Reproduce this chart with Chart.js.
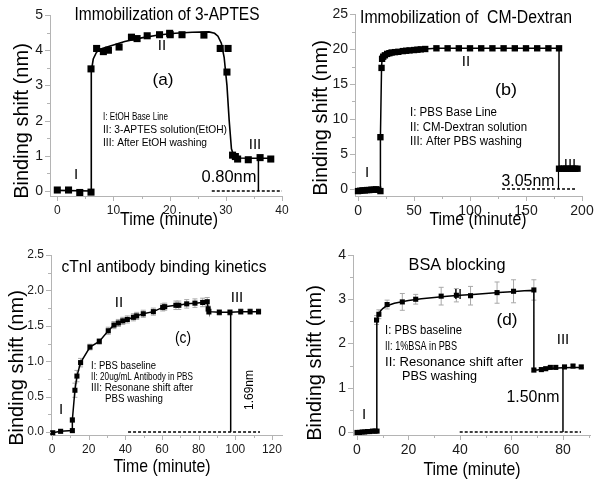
<!DOCTYPE html>
<html>
<head>
<meta charset="utf-8">
<script src="https://cdn.jsdelivr.net/npm/chart.js@4.4.1/dist/chart.umd.min.js"></script>
<style>
  html, body { margin: 0; padding: 0; background: #fff; }
  #wrap { position: relative; width: 603px; height: 485px; overflow: hidden; }
  canvas { position: absolute; }
</style>
</head>
<body>
<div id="wrap">
  <canvas id="chartA" width="300" height="240" style="left:0;top:0;width:300px;height:240px"></canvas>
  <canvas id="chartB" width="303" height="240" style="left:300px;top:0;width:303px;height:240px"></canvas>
  <canvas id="chartC" width="300" height="245" style="left:0;top:240px;width:300px;height:245px"></canvas>
  <canvas id="chartD" width="303" height="245" style="left:300px;top:240px;width:303px;height:245px"></canvas>
</div>
<script>
// (a) 3-APTES
const aTime  = [0, 2, 4, 6, 6, 7, 8.2, 9.1, 11, 13.2, 14.2, 16, 18.2, 20, 20.1, 22.2, 26.1, 29, 30.2, 30.4, 31.2, 31.7, 32.1, 34, 36.1, 38];
const aShift = [0.03, 0.03, -0.04, -0.03, 3.47, 4.05, 3.96, 4.0, 4.09, 4.37, 4.33, 4.41, 4.44, 4.48, 4.44, 4.44, 4.43, 4.05, 3.38, 4.05, 1.02, 0.98, 0.91, 0.89, 0.95, 0.91];
const aFitTime  = [0, 6, 6.05, 6.4, 7, 8, 10, 12, 15, 18, 21, 24, 27, 28, 28.6, 29.2, 29.7, 30.2, 30.6, 31, 31.4, 32, 35, 38];
const aFitShift = [0.02, 0.0, 3.4, 3.75, 3.95, 4.05, 4.15, 4.25, 4.35, 4.43, 4.48, 4.51, 4.52, 4.48, 4.4, 4.2, 3.8, 3.0, 2.0, 1.2, 1.0, 0.94, 0.93, 0.93];
const aBaseTime = [27.5, 40], aBaseShift = [0, 0];
const aMarkTime = [35.8, 35.8], aMarkShift = [0, 0.9];

// (b) CM-Dextran
const bTime  = [0, 2, 4, 6, 8, 10, 12, 14, 16, 18, 20, 20, 21, 21.5, 22.5, 24, 26, 28, 30, 33, 36, 40, 43, 46, 50, 53, 56, 60,
                70, 80, 90, 100, 110, 120, 130, 140, 150, 160, 170, 179.5, 179.5, 182, 184, 186, 188, 190, 192, 194, 196];
const bShift = [-0.3, -0.25, -0.2, -0.2, -0.15, -0.15, -0.1, -0.1, -0.05, -0.1, -0.3, 7.4, 17.3, 18.6, 18.9, 19.1, 19.3, 19.4, 19.5, 19.55, 19.6, 19.7, 19.75, 19.8, 19.85, 19.9, 19.95, 20.0,
                20.1, 20.1, 20.1, 20.1, 20.1, 20.1, 20.1, 20.1, 20.1, 20.1, 20.1, 20.1, 2.9, 2.9, 2.9, 2.9, 2.9, 2.9, 2.9, 2.9, 2.9];
const bBaseTime = [128.6, 195.5], bBaseShift = [0, 0];
const bMarkTime = [179, 179], bMarkShift = [0, 2.9];

// (c) cTnI antibody
const cTime  = [0.4, 4.7, 11.1, 11.1, 12.5, 13.6, 15.6, 20.7, 25.8, 30.7, 33.8, 36.2, 38.6, 41.1, 44.4, 46.2, 49.8, 55.3, 60.4, 61.5,
                67.6, 69.2, 73.5, 78, 82.2, 84.7, 85.2, 85.6, 91.3, 97.1, 103, 108.1, 112.7];
const cShift = [-0.01, 0.01, 0.02, 0.17, 0.59, 0.79, 0.98, 1.2, 1.28, 1.43, 1.51, 1.54, 1.57, 1.59, 1.62, 1.64, 1.67, 1.70, 1.76, 1.77,
                1.79, 1.79, 1.81, 1.82, 1.83, 1.84, 1.74, 1.70, 1.69, 1.69, 1.70, 1.70, 1.70];
const cErr   = [0, 0, 0, 0.03, 0.1, 0.08, 0.06, 0.04, 0.04, 0.05, 0.05, 0.05, 0.05, 0.05, 0.05, 0.05, 0.05, 0.05, 0.05, 0.05,
                0.06, 0.06, 0.06, 0.06, 0.06, 0.06, 0.04, 0.04, 0.04, 0.04, 0.04, 0.04, 0.04];
const cBaseTime = [41.5, 113.5], cBaseShift = [0, 0];
const cMarkTime = [97.5, 97.5], cMarkShift = [0, 1.69];

// (d) BSA blocking
const dTime  = [0, 1, 2, 3, 4, 5, 6, 7, 7.8, 7.6, 8.5, 11.7, 17.6, 22.8, 32.7, 38.6, 44.1, 54.4, 60.8, 68.7,
                68.7, 71.6, 73.3, 75.1, 77.2, 80.6, 83.9, 87.1];
const dShift = [-0.01, -0.01, 0, 0, 0.01, 0.01, 0.02, 0.02, 0.02, 2.53, 2.66, 2.88, 2.94, 3.0, 3.07, 3.09, 3.08, 3.15, 3.18, 3.21,
                1.40, 1.41, 1.43, 1.46, 1.46, 1.47, 1.49, 1.47];
const dErr   = [0, 0, 0, 0, 0, 0, 0, 0, 0, 0.1, 0.1, 0.1, 0.19, 0.11, 0.2, 0.15, 0.21, 0.24, 0.26, 0.23,
                0.04, 0.04, 0.04, 0.04, 0.04, 0.04, 0.04, 0.04];
const dFitTime  = [0, 7.7, 7.7, 8.0, 8.5, 9.2, 10, 11, 12.5, 14.5, 17, 20, 25, 30, 35, 40, 45, 50, 55, 60, 65, 68.7,
                   68.7, 70, 72, 74, 76, 80, 84, 88];
const dFitShift = [0.01, 0.02, 2.45, 2.58, 2.67, 2.74, 2.79, 2.83, 2.87, 2.91, 2.94, 2.97, 3.01, 3.04, 3.07, 3.09, 3.11, 3.13, 3.15, 3.17, 3.19, 3.2,
                   1.4, 1.4, 1.42, 1.43, 1.44, 1.45, 1.46, 1.46];
const dBaseTime = [39.9, 87], dBaseShift = [0, 0];
const dMarkTime = [80, 80], dMarkShift = [0, 1.46];

// axis ticks
const aXTicks = [0, 10, 20, 30, 40], aYTicks = [0, 1, 2, 3, 4, 5];
const bXTicks = [0, 50, 100, 150, 200], bYTicks = [0, 5, 10, 15, 20, 25];
const cXTicks = [0, 20, 40, 60, 80, 100, 120], cYTicks = [0, 0.5, 1.0, 1.5, 2.0, 2.5];
const dXTicks = [0, 20, 40, 60, 80], dYTicks = [0, 1, 2, 3, 4];

const FONT = "'Liberation Sans', Arial, sans-serif";
const AXIS = '#b4b4b4';

function pts(xs, ys) {
  return xs.map((x, i) => ({ x: x, y: ys[i] }));
}
function halves(major, step) {
  const out = [];
  major.forEach(v => out.push(v + step / 2));
  return out;
}

function marks(xs, ys, r) {
  return { data: pts(xs, ys), showLine: false, pointStyle: 'rect', pointRadius: r,
           backgroundColor: '#000', borderWidth: 0, clip: false };
}
function curve(xs, ys, w, dash) {
  return { data: pts(xs, ys), showLine: true, pointRadius: 0, borderColor: '#000',
           borderWidth: w, borderDash: dash || [], tension: 0, clip: false };
}

function axis(a, dir) {
  return {
    type: 'linear', min: a.min, max: a.max,
    border: { display: true, color: AXIS, width: 1 },
    grid: { display: false, drawTicks: true, tickLength: 5 },
    ticks: {
      autoSkip: false, maxRotation: 0, padding: 2, color: '#1a1a1a',
      font: { family: FONT, size: a.font },
      callback: v => a.major.includes(v) ? a.fmt(v) : ''
    },
    afterBuildTicks: s => {
      s.ticks = a.major.concat(a.minor).filter(v => v <= a.max).sort((p, q) => p - q).map(v => ({ value: v }));
    },
    afterFit: s => { if (dir === 'x') s.height = a.size; else s.width = a.size; }
  };
}

function drawText(ctx, t) {
  ctx.save();
  ctx.font = (t.size || 15) + 'px ' + FONT;
  ctx.fillStyle = '#000';
  ctx.textBaseline = 'middle';
  ctx.textAlign = t.align || 'center';
  const w = ctx.measureText(t.t).width;
  ctx.translate(t.x, t.y);
  if (t.rot) ctx.rotate(t.rot);
  if (t.w) ctx.scale(t.w / w, 1);
  ctx.fillText(t.t, 0, 0);
  ctx.restore();
}

function panel(id, o) {
  const extras = {
    id: 'extras',
    beforeDatasetsDraw(chart) {
      if (!o.err) return;
      const ctx = chart.ctx, xs = chart.scales.x, ys = chart.scales.y;
      ctx.save();
      ctx.strokeStyle = '#a8a8a8';
      ctx.lineWidth = 1;
      o.err.xs.forEach((x, i) => {
        const e = o.err.vals[i];
        if (!e) return;
        const px = xs.getPixelForValue(x);
        const y1 = ys.getPixelForValue(o.err.ys[i] + e), y2 = ys.getPixelForValue(o.err.ys[i] - e);
        ctx.beginPath();
        ctx.moveTo(px, y1); ctx.lineTo(px, y2);
        ctx.moveTo(px - 2.5, y1); ctx.lineTo(px + 2.5, y1);
        ctx.moveTo(px - 2.5, y2); ctx.lineTo(px + 2.5, y2);
        ctx.stroke();
      });
      ctx.restore();
    },
    afterDraw(chart) {
      const ctx = chart.ctx, xs = chart.scales.x, ys = chart.scales.y, ca = chart.chartArea;
      ctx.save();
      ctx.strokeStyle = AXIS;
      ctx.lineWidth = 1;
      ctx.beginPath();
      xs.ticks.forEach(t => {
        const px = Math.round(xs.getPixelForValue(t.value)) + 0.5;
        ctx.moveTo(px, ca.bottom); ctx.lineTo(px, ca.bottom + (t.label ? 5 : 3));
      });
      ys.ticks.forEach(t => {
        const py = Math.round(ys.getPixelForValue(t.value)) + 0.5;
        ctx.moveTo(ca.left, py); ctx.lineTo(ca.left - (t.label ? 5 : 3), py);
      });
      ctx.stroke();
      ctx.restore();
      o.texts.forEach(t => drawText(ctx, t));
    }
  };
  return new Chart(document.getElementById(id), {
    type: 'scatter',
    data: { datasets: o.datasets },
    options: {
      responsive: false, animation: false, devicePixelRatio: 1,
      layout: { padding: o.pad },
      plugins: { legend: { display: false }, tooltip: { enabled: false } },
      scales: { x: axis(o.x, 'x'), y: axis(o.y, 'y') }
    },
    plugins: [extras]
  });
}

const ROT = -Math.PI / 2;
const int = v => String(v);
const one = v => v.toFixed(1);

panel('chartA', {
  pad: { left: 0, top: 15, right: 18, bottom: 0 },
  x: { min: -1.3, max: 40, major: aXTicks, minor: halves(aXTicks, 10), fmt: int, font: 12, size: 44 },
  y: { min: -0.14, max: 5, major: aYTicks, minor: halves(aYTicks, 1), fmt: int, font: 14, size: 50 },
  datasets: [
    curve(aFitTime, aFitShift, 1.6),
    curve(aBaseTime, aBaseShift, 1.5, [3, 2]),
    curve(aMarkTime, aMarkShift, 1.5),
    marks(aTime, aShift, 5)
  ],
  texts: [
    { t: 'Immobilization of 3-APTES', x: 167, y: 15, size: 18, w: 185 },
    { t: 'II', x: 162, y: 46 },
    { t: '(a)', x: 163, y: 80, size: 17, w: 21 },
    { t: 'I: EtOH Base Line', x: 103, y: 117, size: 11, w: 65, align: 'left' },
    { t: 'II: 3-APTES solution(EtOH)', x: 103, y: 130, size: 11, w: 124, align: 'left' },
    { t: 'III: After EtOH washing', x: 103, y: 143, size: 11, w: 104, align: 'left' },
    { t: 'I', x: 76, y: 175 },
    { t: 'III', x: 255, y: 145 },
    { t: '0.80nm', x: 229, y: 178, size: 16, w: 55 },
    { t: 'Time (minute)', x: 169, y: 220, size: 18, w: 98 },
    { t: 'Binding shift (nm)', x: 22, y: 121, size: 20, rot: ROT }
  ]
});

panel('chartB', {
  pad: { left: 0, top: 14, right: 21, bottom: 0 },
  x: { min: -2.7, max: 200, major: bXTicks, minor: halves(bXTicks, 50), fmt: int, font: 14, size: 44 },
  y: { min: -1.0, max: 25, major: bYTicks, minor: halves(bYTicks, 5), fmt: int, font: 14, size: 55 },
  datasets: [
    curve(bTime, bShift, 1.5),
    curve(bBaseTime, bBaseShift, 1.5, [3, 2]),
    curve(bMarkTime, bMarkShift, 1.2),
    marks(bTime, bShift, 4.5)
  ],
  texts: [
    { t: 'Immobilization of  CM-Dextran', x: 166, y: 18, size: 18, w: 212 },
    { t: 'II', x: 166, y: 62 },
    { t: '(b)', x: 206, y: 90, size: 17, w: 22 },
    { t: 'I: PBS Base Line', x: 110, y: 113, size: 12, w: 87, align: 'left' },
    { t: 'II: CM-Dextran solution', x: 110, y: 128, size: 12, w: 117, align: 'left' },
    { t: 'III: After PBS washing', x: 110, y: 142, size: 12, w: 112, align: 'left' },
    { t: 'I', x: 67, y: 173 },
    { t: 'III', x: 270, y: 165 },
    { t: '3.05nm', x: 228, y: 182, size: 16, w: 53 },
    { t: 'Time (minute)', x: 178, y: 220, size: 18, w: 97 },
    { t: 'Binding shift (nm)', x: 21, y: 118, size: 20, rot: ROT }
  ]
});

panel('chartC', {
  pad: { left: 0, top: 15, right: 18, bottom: 0 },
  x: { min: -0.55, max: 125.5, major: cXTicks, minor: halves(cXTicks, 20), fmt: int, font: 12, size: 50 },
  y: { min: -0.042, max: 2.5, major: cYTicks, minor: halves(cYTicks, 0.5), fmt: one, font: 12, size: 51 },
  err: { xs: cTime, ys: cShift, vals: cErr },
  datasets: [
    curve(cTime, cShift, 1.5),
    curve(cBaseTime, cBaseShift, 1.5, [3, 2]),
    curve(cMarkTime, cMarkShift, 1.5),
    marks(cTime, cShift, 3.6)
  ],
  texts: [
    { t: 'cTnI antibody binding kinetics', x: 164, y: 27, size: 17, w: 205 },
    { t: 'II', x: 119, y: 63 },
    { t: '(c)', x: 183, y: 98, size: 17, w: 16 },
    { t: 'I: PBS baseline', x: 91, y: 126, size: 11, w: 65, align: 'left' },
    { t: 'II: 20ug/mL Antibody in PBS', x: 91, y: 137, size: 11, w: 102, align: 'left' },
    { t: 'III: Resonane shift after', x: 91, y: 148, size: 11, w: 102, align: 'left' },
    { t: 'PBS washing', x: 105, y: 159, size: 11, w: 58, align: 'left' },
    { t: 'I', x: 61, y: 170 },
    { t: 'III', x: 237, y: 58 },
    { t: '1.69nm', x: 250, y: 150, size: 12, rot: ROT },
    { t: 'Time (minute)', x: 162, y: 227, size: 19, w: 97 },
    { t: 'Binding shift (nm)', x: 17, y: 128, size: 20, rot: ROT }
  ]
});

panel('chartD', {
  pad: { left: 0, top: 15, right: 13, bottom: 0 },
  x: { min: -1.55, max: 90.5, major: dXTicks, minor: halves(dXTicks, 20), fmt: int, font: 14, size: 50 },
  y: { min: -0.068, max: 4, major: dYTicks, minor: halves(dYTicks, 1), fmt: int, font: 14, size: 53 },
  err: { xs: dTime, ys: dShift, vals: dErr },
  datasets: [
    curve(dFitTime, dFitShift, 1.5),
    curve(dBaseTime, dBaseShift, 1.5, [3, 2]),
    curve(dMarkTime, dMarkShift, 1.5),
    marks(dTime, dShift, 3.6)
  ],
  texts: [
    { t: 'BSA blocking', x: 157, y: 25, size: 17, w: 97 },
    { t: 'II', x: 158, y: 55 },
    { t: '(d)', x: 207, y: 80, size: 17, w: 21 },
    { t: 'I: PBS baseline', x: 85, y: 91, size: 12, w: 77, align: 'left' },
    { t: 'II: 1%BSA in PBS', x: 85, y: 107, size: 12, w: 72, align: 'left' },
    { t: 'II: Resonance shift after', x: 85, y: 123, size: 12, w: 138, align: 'left' },
    { t: 'PBS washing', x: 102, y: 137, size: 12, w: 75, align: 'left' },
    { t: 'I', x: 64, y: 175 },
    { t: 'III', x: 263, y: 100 },
    { t: '1.50nm', x: 233, y: 158, size: 16, w: 53 },
    { t: 'Time (minute)', x: 172, y: 230, size: 19, w: 97 },
    { t: 'Binding shift (nm)', x: 15, y: 123, size: 20, rot: ROT }
  ]
});
</script>
</body>
</html>
